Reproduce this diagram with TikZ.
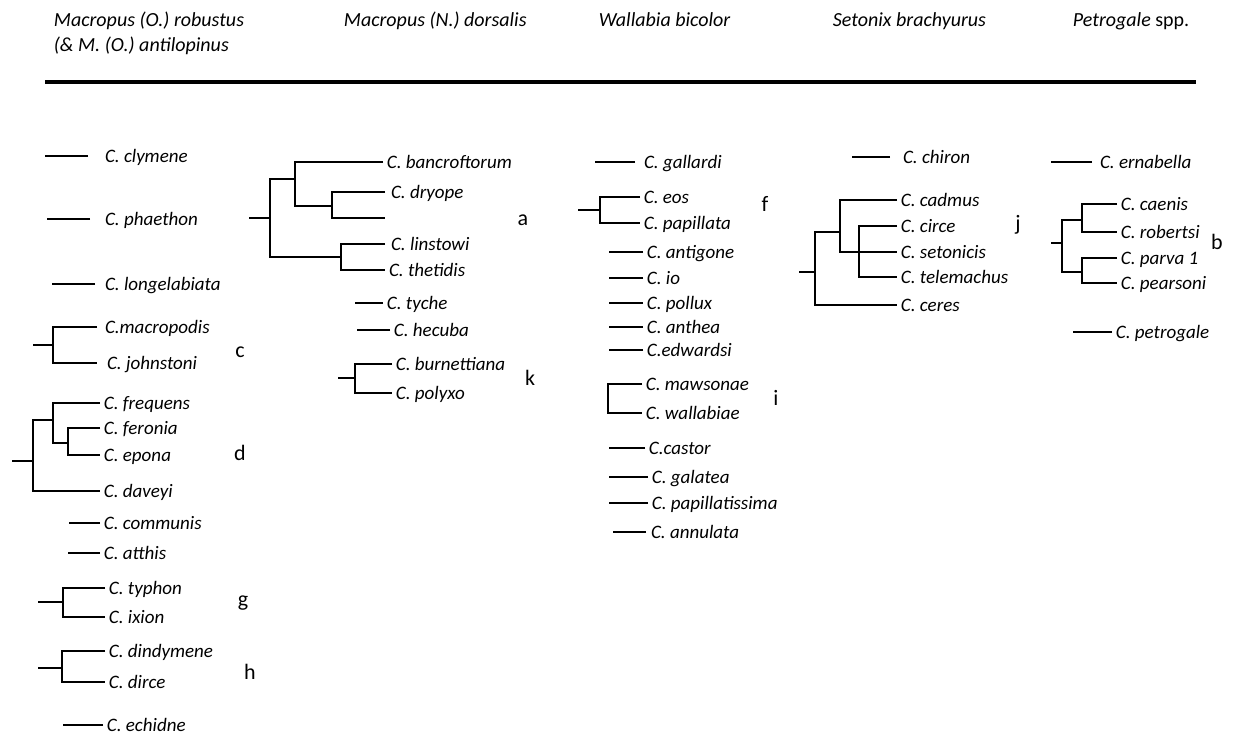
\documentclass[tikz,border=0pt]{standalone}
\usepackage{fontspec}
\setmainfont{Carlito}
\usetikzlibrary{positioning}

\begin{document}
\begin{tikzpicture}[
    x=0.5pt,
    y=-0.5pt,
    line width=0.9pt,
    taxon/.style={
		anchor=west,
		inner xsep=1.5pt,
		inner ysep=0pt,
		text height=7pt,
		text depth=1pt,
		font=\itshape\fontsize{9.5}{11}\selectfont
	},
	head/.style={
		anchor=west,
		inner sep=0pt,
		text height=7.5pt,
		text depth=2.5pt,
		font=\itshape\fontsize{10}{12}\selectfont
	},
	group/.style={
		inner sep=0pt,
		font=\fontsize{11}{12}\selectfont
	}
  ]
  \useasboundingbox (0,0) rectangle (1250,735);

  % We start with the hosts
  \node [head] (robustus) at (53,21) {Macropus (O.) robustus};
  \node [head, below=2pt of robustus.south west, anchor=north west] (antilopinus) {(\& M. (O.) antilopinus};
  \node [head] (dorsalis) at (343,21) {Macropus (N.) dorsalis};
  \node [head] (bicolor) at (598,21) {Wallabia bicolor};
  \node [head] (brachyurus) at (832,21) {Setonix brachyurus};
  \node [head] (spp) at (1072,21) {Petrogale \textup{spp.}};
  \draw [line width=1.8pt] (45,82) -- (1196,82);

  % first column
  \node [taxon, outer xsep=7pt] (clymene) at (88,156) {C. clymene};
  \node [taxon, outer xsep=6pt] (phaethon) at (90,219) {C. phaethon};
  \node [taxon, outer xsep=3.5pt] (longelabiata) at (95,284) {C. longelabiata};
  \node [taxon, outer xsep=2.5pt] (macropodis) at (97,327) {C.macropodis};
  \node [taxon, outer xsep=3.5pt] (johnstoni) at (97,363) {C. johnstoni};
  \node [taxon] (frequens) at (100,403) {C. frequens};
  \node [taxon] (feronia) at (100,428) {C. feronia};
  \node [taxon] (epona) at (100,455) {C. epona};
  \node [taxon] (daveyi) at (100,491) {C. daveyi};
  \node [taxon] (communis) at (100,523) {C. communis};
  \node [taxon] (atthis) at (100,553) {C. atthis};
  \node [taxon] (typhon) at (105,588) {C. typhon};
  \node [taxon] (ixion) at (105,617) {C. ixion};
  \node [taxon] (dindymene) at (105,651) {C. dindymene};
  \node [taxon] (dirce) at (105,682) {C. dirce};
  \node [taxon] (echidne) at (103,725) {C. echidne};

  \coordinate (c1) at (53,345);
  \coordinate (fe) at (68,443);
  \coordinate (fr) at (53,420);
  \coordinate (d1) at (33,461);
  \coordinate (g1) at (63,602);
  \coordinate (h1) at (62,668);

  \draw (clymene.west) -- ++(-43,0);
  \draw (phaethon.west) -- ++(-43,0);
  \draw (longelabiata.west) -- ++(-43,0);
  \draw (macropodis.west) -| (c1) |- (johnstoni.west);
  \draw (c1) -- ++(-20,0);
  \draw (feronia.west) -| (fe) |- (epona.west);
  \draw (frequens.west) -| (fr) |- (fe);
  \draw (fr) -| (d1) |- (daveyi.west);
  \draw (d1) -- ++(-21,0);
  \draw (communis.west) -- ++(-31,0);
  \draw (atthis.west) -- ++(-32,0);
  \draw (typhon.west) -| (g1) |- (ixion.west);
  \draw (g1) -- ++(-25,0);
  \draw (dindymene.west) -| (h1) |- (dirce.west);
  \draw (h1) -- ++(-24,0);
  \draw (echidne.west) -- ++(-40,0);

  \node [group] (c) at (240,352) {c};
  \node [group] (d) at (240,453) {d};
  \node [group] (g) at (243,603) {g};
  \node [group] (h) at (250,672) {h};

  % second column
  \node [taxon] (bancroftorum) at (383,162) {C. bancroftorum};
  \node [taxon, outer xsep=1.5pt] (dryope) at (385,192) {C. dryope};
  \coordinate (blank) at (385,218);
  \node [taxon, outer xsep=1.5pt] (linstowi) at (385,244) {C. linstowi};
  \node [taxon, outer xsep=0.5pt] (thetidis) at (385,270) {C. thetidis};
  \node [taxon] (tyche) at (383,303) {C. tyche};
  \node [taxon] (hecuba) at (390,330) {C. hecuba};
  \node [taxon] (burnettiana) at (392,364) {C. burnettiana};
  \node [taxon] (polyxo) at (392,393) {C. polyxo};

  \coordinate (a0) at (270,218);
  \coordinate (a2) at (295,179);
  \coordinate (a3) at (332,206);
  \coordinate (a4) at (341,257);
  \coordinate (k1) at (355,378);

  \draw (bancroftorum.west) -| (a2) |- (a3);
  \draw (dryope.west) -| (a3) |- (blank);
  \draw (a2) -| (a0) |- (a4);
  \draw (linstowi.west) -| (a4) |- (thetidis.west);
  \draw (a0) -- ++(-21,0);
  \draw (tyche.west) -- ++(-28,0);
  \draw (hecuba.west) -- ++(-33,0);
  \draw (burnettiana.west) -| (k1) |- (polyxo.west);
  \draw (k1) -- ++(-17,0);

  \node [group] (a) at (523,220) {a};
  \node [group] (k) at (530,378) {k};

  % third column
  \node [taxon, outer xsep=3pt] (gallardi) at (635,162) {C. gallardi};
  \node [taxon] (eos) at (640,197) {C. eos};
  \node [taxon] (papillata) at (640,223) {C. papillata};
  \node [taxon] (antigone) at (643,252) {C. antigone};
  \node [taxon] (io) at (643,278) {C. io};
  \node [taxon] (pollux) at (643,303) {C. pollux};
  \node [taxon] (anthea) at (643,327) {C. anthea};
  \node [taxon] (edwardsi) at (643,350) {C.edwardsi};
  \node [taxon] (mawsonae) at (642,384) {C. mawsonae};
  \node [taxon] (wallabiae) at (642,413) {C. wallabiae};
  \node [taxon] (castor) at (645,448) {C.castor};
  \node [taxon] (galatea) at (648,477) {C. galatea};
  \node [taxon] (papillatissima) at (648,503) {C. papillatissima};
  \node [taxon, outer xsep=1pt] (annulata) at (646,532) {C. annulata};

  \coordinate (f1) at (600,210);
  \coordinate (i1) at (608,398);

  \draw (gallardi.west) -- ++(-40,0);
  \draw (eos.west) -| (f1) |- (papillata.west);
  \draw (f1) -- ++(-22,0);
  \foreach \t in {antigone,io,pollux,anthea,edwardsi}
    \draw (\t.west) -- ++(-34,0);
  \draw (mawsonae.west) -| (i1) |- (wallabiae.west);
  \draw (castor.west) -- ++(-36,0);
  \draw (galatea.west) -- ++(-39,0);
  \draw (papillatissima.west) -- ++(-39,0);
  \draw (annulata.west) -- ++(-33,0);

  \node [group] (f) at (765,204) {f};
  \node [group] (i) at (776,398) {i};

  % fourth column
  \node [taxon, outer xsep=5pt] (chiron) at (890,157) {C. chiron};
  \node [taxon] (cadmus) at (897,200) {C. cadmus};
  \node [taxon] (circe) at (897,226) {C. circe};
  \node [taxon] (setonicis) at (897,252) {C. setonicis};
  \node [taxon] (telemachus) at (897,277) {C. telemachus};
  \node [taxon] (ceres) at (897,305) {C. ceres};

  \coordinate (j1) at (815,272);
  \coordinate (j2) at (840,232);
  \coordinate (j3) at (859,252);

  \draw (chiron.west) -- ++(-38,0);
  \draw (cadmus.west) -| (j2) |- (setonicis.west);
  \draw (circe.west) -| (j3) |- (telemachus.west);
  \draw (j2) -| (j1) |- (ceres.west);
  \draw (j1) -- ++(-16,0);

  \node [group] (j) at (1018,225) {j};

  % fifth column
  \node [taxon, outer xsep=2.5pt] (ernabella) at (1092,162) {C. ernabella};
  \node [taxon] (caenis) at (1117,204) {C. caenis};
  \node [taxon] (robertsi) at (1117,232) {C. robertsi};
  \node [taxon] (parva) at (1117,258) {C. parva 1};
  \node [taxon] (pearsoni) at (1117,283) {C. pearsoni};
  \node [taxon] (petrogale) at (1112,332) {C. petrogale};

  \coordinate (b1) at (1062,243);
  \coordinate (b2) at (1082,220);
  \coordinate (b3) at (1082,272);

  \draw (ernabella.west) -- ++(-41,0);
  \draw (caenis.west) -| (b2) |- (robertsi.west);
  \draw (parva.west) -| (b3) |- (pearsoni.west);
  \draw (b2) -| (b1) |- (b3);
  \draw (b1) -- ++(-11,0);
  \draw (petrogale.west) -- ++(-39,0);

  \node [group] (b) at (1217,242) {b};

\end{tikzpicture}
\end{document}
